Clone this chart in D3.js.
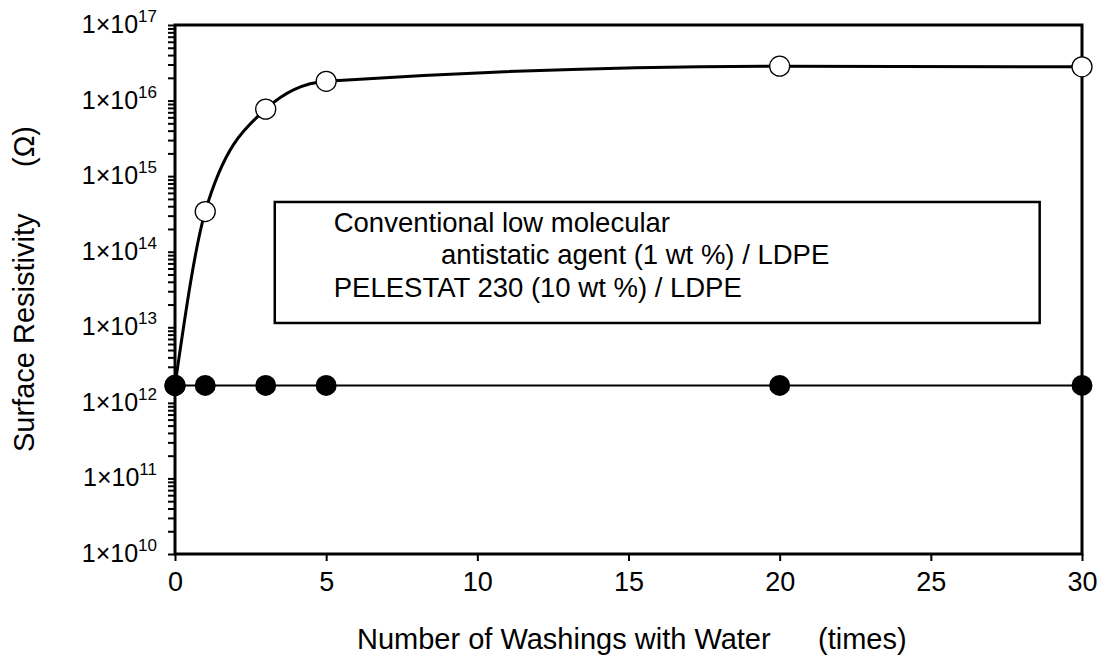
<!DOCTYPE html>
<html>
<head>
<meta charset="utf-8">
<script src="https://cdn.jsdelivr.net/npm/d3@7"></script>
<style>
  body { margin: 0; background: #fff; }
  text { font-family: "Liberation Sans", Arial, sans-serif; fill: #000; }
</style>
</head>
<body>
<svg id="chart"></svg>
<script>
// Data
const washes = [0, 1, 3, 5, 20, 30];
const conventional = [1.7e12, 3.4e14, 7.7e15, 1.8e16, 2.85e16, 2.8e16];
const pelestat = [1.7e12, 1.7e12, 1.7e12, 1.7e12, 1.7e12, 1.7e12];
const xTicks = [0, 5, 10, 15, 20, 25, 30];
const yExponents = [10, 11, 12, 13, 14, 15, 16, 17];
const legendLines = ["Conventional low molecular", "antistatic agent (1 wt %) / LDPE", "PELESTAT 230 (10 wt %) / LDPE"];

const W = 1102, H = 659;
let margin = {top: 25, right: 20, bottom: 105, left: 175},
    width = W - margin.left - margin.right,
    height = H - margin.top - margin.bottom;

let svg = d3.select("#chart").attr("width", W).attr("height", H);
let g = svg.append("g").attr("transform", "translate(" + margin.left + "," + margin.top + ")");

let x = d3.scaleLinear().domain([0, 30]).range([0, width]);
let y = d3.scaleLog().domain([1e10, 1e17]).range([height, 0]);

// minor + major ticks for the log axis
let yTickVals = [];
yExponents.forEach(function(e) {
    for (let m = 1; m < 10; m++) {
        if (e === 17 && m > 1) break;
        yTickVals.push(m * Math.pow(10, e));
    }
});

// y axis ticks (no labels, custom ones below)
g.append("g")
    .attr("class", "y axis")
    .call(d3.axisLeft(y).tickValues(yTickVals).tickSize(7).tickSizeOuter(0).tickFormat(""))
    .call(function(s) {
        s.select(".domain").remove();
        s.selectAll("line").attr("stroke-width", 2);
    });

// y tick labels 1x10^n
let yl = g.append("g").attr("class", "y labels");
yExponents.forEach(function(e) {
    let t = yl.append("text")
        .attr("x", -18)
        .attr("y", y(Math.pow(10, e)) + 8)
        .attr("text-anchor", "end")
        .style("font-size", "25px");
    t.append("tspan").text("1\u00d710");
    t.append("tspan").attr("dy", -11).style("font-size", "17px").text(e);
});

// x axis
g.append("g")
    .attr("class", "x axis")
    .attr("transform", "translate(0," + height + ")")
    .call(d3.axisBottom(x).tickValues(xTicks).tickSize(7).tickSizeOuter(0).tickPadding(11))
    .call(function(s) {
        s.select(".domain").remove();
        s.selectAll("line").attr("stroke-width", 2);
        s.selectAll("text").style("font-size", "27px").attr("fill", "#000");
    });

// frame
g.append("rect")
    .attr("x", 0).attr("y", 0)
    .attr("width", width).attr("height", height)
    .attr("fill", "none").attr("stroke", "#000").attr("stroke-width", 3);

// legend box (text only)
let lg = g.append("g").attr("class", "legend");
lg.append("rect")
    .attr("x", x(3.3)).attr("y", y(4.55e14))
    .attr("width", x(28.6) - x(3.3)).attr("height", y(1.14e13) - y(4.55e14))
    .attr("fill", "none").attr("stroke", "#000").attr("stroke-width", 2.5);
lg.append("text").attr("x", x(5.25)).attr("y", y(1.85e14)).style("font-size", "27.5px").text(legendLines[0]);
lg.append("text").attr("x", x(8.8)).attr("y", y(6.9e13)).style("font-size", "27.5px").text(legendLines[1]);
lg.append("text").attr("x", x(5.25)).attr("y", y(2.5e13)).style("font-size", "27.5px").text(legendLines[2]);

// conventional agent curve
let convLine = d3.line()
    .x(function(d, i) { return x(washes[i]); })
    .y(function(d) { return y(d); })
    .curve(d3.curveMonotoneX);
g.append("path")
    .datum(conventional)
    .attr("fill", "none").attr("stroke", "#000").attr("stroke-width", 3)
    .attr("d", convLine);

// PELESTAT line
let pelLine = d3.line()
    .x(function(d, i) { return x(washes[i]); })
    .y(function(d) { return y(d); });
g.append("path")
    .datum(pelestat)
    .attr("fill", "none").attr("stroke", "#000").attr("stroke-width", 2)
    .attr("d", pelLine);

// open circles
g.selectAll(".open")
    .data(conventional)
    .enter().append("circle")
    .attr("class", "open")
    .attr("cx", function(d, i) { return x(washes[i]); })
    .attr("cy", function(d) { return y(d); })
    .attr("r", 10)
    .attr("fill", "#fff").attr("stroke", "#000").attr("stroke-width", 1.3);

// filled circles
g.selectAll(".filled")
    .data(pelestat)
    .enter().append("circle")
    .attr("class", "filled")
    .attr("cx", function(d, i) { return x(washes[i]); })
    .attr("cy", function(d) { return y(d); })
    .attr("r", 10.5)
    .attr("fill", "#000");

// axis titles
svg.append("text")
    .attr("x", 357).attr("y", 649)
    .style("font-size", "29px")
    .text("Number of Washings with Water");
svg.append("text")
    .attr("x", 818).attr("y", 649)
    .style("font-size", "29px")
    .text("(times)");
svg.append("text")
    .attr("transform", "translate(34,452) rotate(-90)")
    .style("font-size", "29px")
    .text("Surface Resistivity");
svg.append("text")
    .attr("transform", "translate(34,167) rotate(-90)")
    .style("font-size", "29px")
    .text("(\u03a9)");
</script>
</body>
</html>
